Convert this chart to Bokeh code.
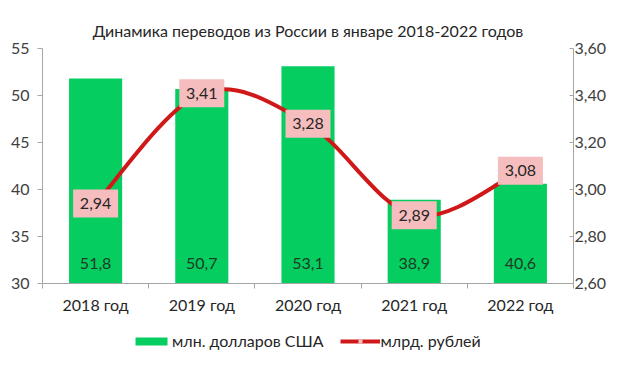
from bokeh.plotting import figure
from bokeh.layouts import column
from bokeh.models import (Range1d, LinearAxis, FixedTicker, CustomJSTickFormatter,
                          ColumnDataSource, Legend, LegendItem)
from bokeh.core.properties import value
from bokeh.embed import file_html
from bokeh.resources import INLINE

# ---- data ----
years = ["2018 год", "2019 год", "2020 год", "2021 год", "2022 год"]
usd_mln = [51.8, 50.7, 53.1, 38.9, 40.6]
rub_bln = [2.94, 3.41, 3.28, 2.89, 3.08]
title_text = "Динамика переводов из России в январе 2018-2022 годов"
series_names = ["млн. долларов США", "млрд. рублей"]
left_ticks = [30, 35, 40, 45, 50, 55]
right_ticks = [2.6, 2.8, 3.0, 3.2, 3.4, 3.6]

FONT = "Lato"
GREEN = "#06cd60"
RED = "#d01818"
PINK = "#f5bdbd"
AXIS = "#a6a6a6"
TXT = "#404040"

xs = [i + 0.5 for i in range(len(years))]

p = figure(width=620, height=318, output_backend="svg", toolbar_location=None,
           x_range=Range1d(0, len(years)), y_range=Range1d(30, 55),
           min_border_left=42, min_border_right=47, min_border_top=48, min_border_bottom=35)
p.extra_y_ranges = {"rub": Range1d(2.6, 3.6)}
p.xgrid.visible = False
p.ygrid.visible = False
p.outline_line_color = None
p.background_fill_color = "white"
p.border_fill_color = "white"

# axes
ax = p.yaxis[0]
ax.ticker = FixedTicker(ticks=left_ticks)
ax.axis_line_color = AXIS
ax.major_tick_line_color = AXIS
ax.minor_tick_line_color = None
ax.major_tick_out = 5
ax.major_tick_in = 0
ax.major_label_standoff = 8
ax.major_label_text_font = FONT
ax.major_label_text_font_size = "16px"
ax.major_label_text_color = TXT

rax = LinearAxis(y_range_name="rub", ticker=FixedTicker(ticks=right_ticks),
                 formatter=CustomJSTickFormatter(code="return tick.toFixed(2).replace('.', ',')"))
rax.axis_line_color = AXIS
rax.major_tick_line_color = AXIS
rax.minor_tick_line_color = None
rax.major_tick_in = 4
rax.major_tick_out = 0
rax.major_label_standoff = 1
rax.major_label_text_font = FONT
rax.major_label_text_font_size = "16px"
rax.major_label_text_color = TXT
p.add_layout(rax, "right")

xax = p.xaxis[0]
xax.ticker = FixedTicker(ticks=xs, minor_ticks=list(range(len(years) + 1)))
xax.formatter = CustomJSTickFormatter(args={"labels": years},
                                      code="return labels[Math.round(tick - 0.5)]")
xax.axis_line_color = AXIS
xax.major_tick_line_color = None
xax.major_tick_out = 0
xax.major_tick_in = 0
xax.minor_tick_line_color = AXIS
xax.minor_tick_out = 5
xax.minor_tick_in = 0
xax.major_label_standoff = 6
xax.major_label_text_font = FONT
xax.major_label_text_font_size = "16px"
xax.major_label_text_color = "#262626"

# title
p.title.text = title_text
p.title.align = "center"
p.title.text_font = FONT
p.title.text_font_size = "16px"
p.title.text_font_style = "normal"
p.title.text_color = "#262626"
p.title.offset = 3
p.title.standoff = 17

# bars
bar_src = ColumnDataSource(dict(x=xs, top=usd_mln,
                                lab=[f"{v:.1f}".replace(".", ",") for v in usd_mln]))
p.vbar(x="x", top="top", bottom=30, width=0.5, source=bar_src,
       fill_color=GREEN, line_color=None)
p.text(x="x", y=30, text="lab", source=bar_src, text_align="center", text_baseline="middle",
       y_offset=-20, text_font=value(FONT), text_font_size="16px", text_color="#1b3b24")

# smoothed line (Bezier segments through the data points)
n = len(rub_bln)
def pt(i):
    i = max(0, min(n - 1, i))
    return xs[i], rub_bln[i]
seg = dict(x0=[], y0=[], x1=[], y1=[], cx0=[], cy0=[], cx1=[], cy1=[])
for i in range(n - 1):
    xa, ya = pt(i); xb, yb = pt(i + 1)
    xp, yp = pt(i - 1); xn, yn = pt(i + 2)
    seg["x0"].append(xa); seg["y0"].append(ya)
    seg["x1"].append(xb); seg["y1"].append(yb)
    seg["cx0"].append(xa + (xb - xp) / 6); seg["cy0"].append(ya + (yb - yp) / 6)
    seg["cx1"].append(xb - (xn - xa) / 6); seg["cy1"].append(yb - (yn - ya) / 6)
seg_src = ColumnDataSource(seg)
p.bezier(source=seg_src, x0="x0", y0="y0", x1="x1", y1="y1",
         cx0="cx0", cy0="cy0", cx1="cx1", cy1="cy1",
         line_color=RED, line_width=4, y_range_name="rub")

rub_src = ColumnDataSource(dict(x=xs, y=rub_bln,
                                lab=[f"{v:.2f}".replace(".", ",") for v in rub_bln]))
p.scatter(x="x", y="y", source=rub_src, marker="square", size=11,
          fill_color=PINK, line_color=None, y_range_name="rub")
p.rect(x="x", y="y", width=45, height=28, width_units="screen", height_units="screen",
       source=rub_src, fill_color=PINK, line_color=None, y_range_name="rub")
p.text(x="x", y="y", text="lab", source=rub_src, text_align="center", text_baseline="middle",
       text_font=value(FONT), text_font_size="16px", text_color="#262626", y_range_name="rub")

# ---- legend strip (same series, view window placed away from the data) ----
p2 = figure(width=620, height=40, output_backend="svg", toolbar_location=None,
            x_range=Range1d(100, 101), y_range=Range1d(100, 101),
            min_border_left=0, min_border_right=0, min_border_top=0, min_border_bottom=0)
p2.axis.visible = False
p2.grid.visible = False
p2.outline_line_color = None
p2.extra_y_ranges = {"rub": Range1d(100, 101)}
lb = p2.vbar(x="x", top="top", bottom=30, width=0.5, source=bar_src,
             fill_color=GREEN, line_color=None)
lc = p2.bezier(source=seg_src, x0="x0", y0="y0", x1="x1", y1="y1",
               cx0="cx0", cy0="cy0", cx1="cx1", cy1="cy1",
               line_color=RED, line_width=4, y_range_name="rub")
lm = p2.scatter(x="x", y="y", source=rub_src, marker="square", size=11,
                fill_color=PINK, line_color=None, y_range_name="rub")
legend = Legend(items=[LegendItem(label=series_names[0], renderers=[lb]),
                       LegendItem(label=series_names[1], renderers=[lc, lm])],
                orientation="horizontal", location=(89, 8),
                border_line_color=None, background_fill_alpha=0, padding=0, margin=0,
                spacing=16, glyph_width=40, glyph_height=10, label_standoff=1,
                label_text_font=FONT, label_text_font_size="16px", label_text_color="#262626")
p2.add_layout(legend, "center")

open("out.html", "w").write(file_html(column(p, p2, spacing=0), INLINE))
